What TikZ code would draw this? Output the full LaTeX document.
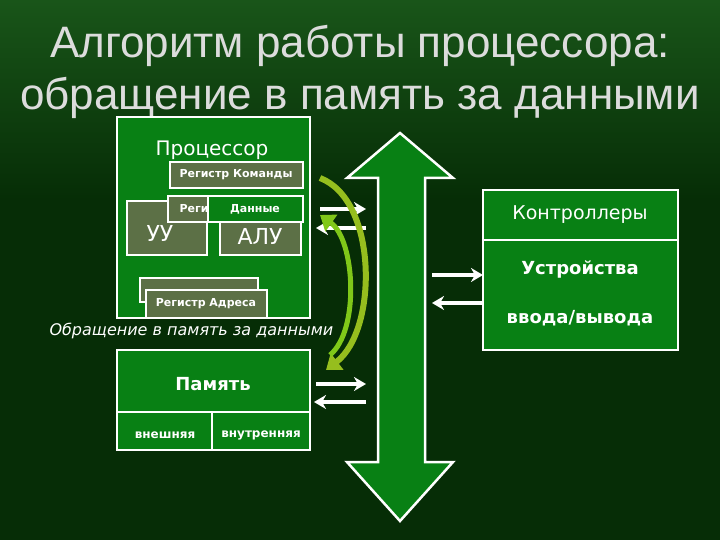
\documentclass[tikz,border=0pt]{standalone}
\usepackage{fontspec}
\setmainfont{Liberation Sans}
\newfontfamily\dejafont{DejaVu Sans}
\usetikzlibrary{arrows.meta}
\definecolor{bgd}{RGB}{6,45,6}
\definecolor{bgt}{RGB}{25,85,25}
\definecolor{gbox}{RGB}{8,128,20}
\definecolor{gray}{RGB}{92,112,70}
\definecolor{ttl}{RGB}{220,220,220}
\definecolor{yg}{RGB}{150,190,30}
\tikzset{
 box/.style={draw=white,line width=2.5pt,fill=gbox},
 gbx/.style={draw=white,line width=2.5pt,fill=gray},
 lbl/.style={text=white,font=\dejafont},
 sarr/.style={draw=white,line width=3.5pt,-{Stealth[length=12pt,width=14pt]}},
 carr/.style={draw=yg,line width=6pt,-{Triangle[length=14pt,width=20pt]}}
}
\begin{document}
\begin{tikzpicture}[x=1pt,y=-1pt]
\useasboundingbox (0,0) rectangle (720,540);
\fill[bgd] (0,0) rectangle (720,540);
\shade[top color=bgt,bottom color=bgd] (0,0) rectangle (720,200);
\node[text=ttl,font=\fontsize{44}{48}\selectfont] (t1) at (360,46) {Алгоритм работы процессора:};
\node[text=ttl,font=\fontsize{44}{48}\selectfont] (t2) at (360,98) {обращение в память за данными};
% processor
\draw[box] (117,117) rectangle (310,318);
\node[lbl,font=\dejafont\fontsize{20}{22}\selectfont] (proc) at (212,150) {Процессор};
\draw[gbx] (127,201) rectangle (207,255);
\node[lbl,font=\dejafont\fontsize{22}{24}\selectfont] (uu) at (160,233) {УУ};
\draw[gbx] (220,201) rectangle (301,255);
\node[lbl,font=\dejafont\fontsize{22}{24}\selectfont] (alu) at (260,236) {АЛУ};
\draw[gbx] (170,162) rectangle (303,188);
\node[lbl,font=\dejafont\bfseries\fontsize{11}{13}\selectfont] (rk) at (236,175) {Регистр Команды};
\draw[gbx] (168,196) rectangle (215,222);
\node[lbl,font=\dejafont\bfseries\fontsize{11}{13}\selectfont,anchor=west] (rg) at (176,209) {Реги};
\draw[box] (208,196) rectangle (303,222);
\node[lbl,font=\dejafont\bfseries\fontsize{11}{13}\selectfont] (dn) at (255,209) {Данные};
\draw[gbx] (140,278) rectangle (258,302);
\draw[gbx] (146,290) rectangle (267,318);
\node[lbl,font=\dejafont\bfseries\fontsize{11}{13}\selectfont] (ra) at (206,304) {Регистр Адреса};
\begin{scope}
\clip (40,318) rectangle (338,345);
\node[lbl,font=\dejafont\itshape\fontsize{16}{18}\selectfont,anchor=west] (obr) at (46,331) {Обращение в память за данными};
\end{scope}
% memory
\draw[box] (117,350) rectangle (310,450);
\draw[white,line width=2.5pt] (117,412) -- (310,412) (212,412) -- (212,450);
\node[lbl,font=\dejafont\bfseries\fontsize{18}{20}\selectfont] (mem) at (213,384) {Память};
\node[lbl,font=\dejafont\bfseries\fontsize{12}{14}\selectfont] (ext) at (165,435) {внешняя};
\node[lbl,font=\dejafont\bfseries\fontsize{12}{14}\selectfont] (int) at (261,435) {внутренняя};
% bus
\draw[box] (400,133) -- (453,178) -- (425,178) -- (425,462) -- (453,462) -- (400,521) -- (347,462) -- (378,462) -- (378,178) -- (347,178) -- cycle;
% controllers
\draw[box] (483,190) rectangle (678,240);
\node[lbl,font=\dejafont\fontsize{19}{21}\selectfont] (ctl) at (580,215) {Контроллеры};
\draw[box] (483,240) rectangle (678,350);
\node[lbl,font=\dejafont\bfseries\fontsize{18}{20}\selectfont] (dev1) at (580,269) {Устройства};
\node[lbl,font=\dejafont\bfseries\fontsize{18}{20}\selectfont] (dev2) at (580,318) {ввода/вывода};
% small arrows
\coordinate (a1s) at (320,209); \coordinate (a1e) at (366,209);
\coordinate (a2s) at (366,228); \coordinate (a2e) at (316,228);
\coordinate (a3s) at (316,384); \coordinate (a3e) at (366,384);
\coordinate (a4s) at (366,402); \coordinate (a4e) at (314,402);
\coordinate (a5s) at (432,275); \coordinate (a5e) at (483,275);
\coordinate (a6s) at (483,303); \coordinate (a6e) at (432,303);
\draw[sarr] (a1s) -- (a1e); \draw[sarr] (a2s) -- (a2e);
\draw[sarr] (a3s) -- (a3e); \draw[sarr] (a4s) -- (a4e);
\draw[sarr] (a5s) -- (a5e); \draw[sarr] (a6s) -- (a6e);
% curved arrows
\coordinate (c1s) at (320,178); \coordinate (c1e) at (326,370);
\coordinate (c2s) at (330,355); \coordinate (c2e) at (320,215);
\draw[carr] (c1s) .. controls (378,200) and (378,330) .. (c1e);
\draw[carr,draw=yg!85!green,line width=5pt] (c2s) .. controls (360,330) and (355,240) .. (c2e);
\end{tikzpicture}
\end{document}
